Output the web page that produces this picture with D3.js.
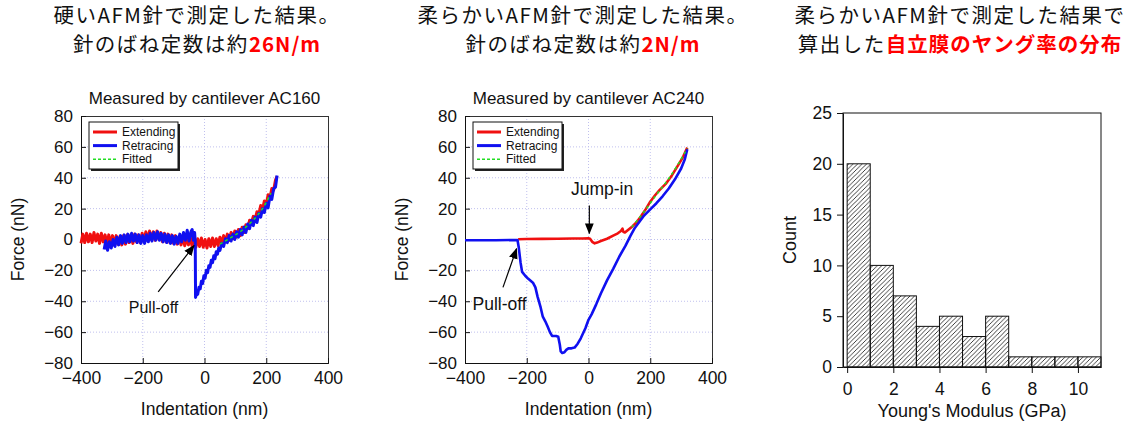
<!DOCTYPE html>
<html>
<head>
<meta charset="utf-8">
<script src="https://cdn.jsdelivr.net/npm/d3@7"></script>
<style>
body { margin: 0; background: #fff; }
svg text { font-family: "Liberation Sans", Arial, sans-serif; fill: #111; }
svg text.jp { font-family: "Noto Sans CJK JP", sans-serif; }
</style>
</head>
<body>
<svg id="fig" width="1134" height="425"></svg>
<script>
// ---- data ----
const forceXTicks = [-400, -200, 0, 200, 400];
const forceYTicks = [-80, -60, -40, -20, 0, 20, 40, 60, 80];
const legendLabels = ["Extending", "Retracing", "Fitted"];

// AC160 (hard cantilever), noisy curves
const ac160Extend = [
  [-400,-2.5],[-394,3.5],[-388,-2],[-382,4],[-376,-1.5],[-370,3.5],[-364,-2],[-358,4.5],[-352,-1],[-346,3.5],
  [-340,-2.5],[-334,4],[-328,-1.5],[-322,3],[-316,-3],[-310,3],[-304,-3],[-298,2.5],[-292,-3.5],[-286,2.5],
  [-280,-3],[-274,2],[-268,-3.5],[-262,2.5],[-256,-3],[-250,3],[-244,-2],[-238,3],[-232,-2.5],[-226,3.5],
  [-220,-1.5],[-214,3],[-208,-2],[-202,4],[-196,-1],[-190,5],[-184,-0.5],[-178,5.5],[-172,0],[-166,5],
  [-160,-0.5],[-154,5.5],[-148,0],[-142,4.5],[-136,-1.5],[-130,4],[-124,-1.5],[-118,3.5],[-112,-2],[-106,3],
  [-100,-2.5],[-94,2.5],[-88,-3],[-82,2],[-76,-3.5],[-70,1.5],[-64,-4],[-58,1],[-52,-3.5],[-46,1.5],
  [-40,-4.5],[-34,0.5],[-28,-5],[-22,0.5],[-16,-4.5],[-10,1],[-4,-5],[2,0],[8,-5.5],[14,0.5],
  [20,-4.5],[26,1],[32,-4.5],[38,0.5],[44,-4],[50,1.5],[56,-2.5],[62,2.5],[68,-1.5],[74,3.5],
  [80,-0.5],[86,4.5],[92,0.5],[98,5.5],[104,1.5],[110,6.5],[116,2.5],[122,8],[128,4.5],[134,9.5],
  [140,7],[146,12.5],[152,10.5],[158,15],[164,13],[170,18],[176,16.5],[182,22],[188,19.5],[194,25],
  [200,22.5],[206,29],[212,27],[218,33],[224,32],[230,38.5],[235,41]
];
const ac160Retract = [
  [-325,-6.5],[-320,-1],[-314,-7],[-308,-1.5],[-302,-5.5],[-296,0],[-290,-4.5],[-284,1.5],[-278,-3.5],[-272,2.5],
  [-266,-2.5],[-260,3],[-254,-2],[-248,3.5],[-242,-1.5],[-236,4],[-230,-1],[-224,3.5],[-218,-2],[-212,3],
  [-206,-2.5],[-200,2.5],[-194,-2.5],[-188,3],[-182,-1.5],[-176,4],[-170,-1],[-164,4.5],[-158,-0.5],[-152,5],
  [-146,-0.5],[-140,4],[-134,-1.5],[-128,3.5],[-122,-2],[-116,3],[-110,-2.5],[-104,2.5],[-98,-3],[-92,2],
  [-86,-2.5],[-80,3.5],[-74,-1.5],[-68,4.5],[-62,-0.5],[-56,6],[-50,-1],[-44,5],[-40,6.5],[-36,-0.5],
  [-32,4.5],[-30,-1],[-29,-37.5],[-26,-35],[-22,-35.5],[-18,-31],[-14,-32],[-10,-27],[-6,-28.5],[-2,-23.5],
  [2,-25],[6,-20],[10,-21.5],[14,-17],[18,-18],[22,-13.5],[26,-15],[30,-10.5],[34,-12.5],[38,-8],
  [42,-9.5],[46,-5.5],[50,-7],[56,-2.5],[62,-4.5],[68,0.5],[74,-2],[80,2.5],[86,-1],[92,3.5],
  [98,0],[104,5],[110,1.5],[116,6.5],[122,3],[128,8],[134,4.5],[140,10],[146,7],[152,12.5],
  [158,9],[164,14.5],[170,11],[176,17],[182,14.5],[188,20],[194,17.5],[200,23.5],[206,20.5],[212,28],
  [218,26],[224,33],[230,34],[235,41.5]
];
const ac160Fit = [[50,-3],[75,0],[100,3],[125,6.5],[150,11],[175,16.5],[200,24],[215,30]];

// AC240 (soft cantilever)
const ac240Extend = [
  [-228,0.2],[-200,0.3],[-150,0.4],[-100,0.5],[-50,0.6],[-20,0.6],[0,0.8],[5,0.5],[12,-1.5],[20,-2.5],
  [28,-2],[40,-1],[60,0.5],[80,2.5],[95,4],[105,5.5],[110,7],[113,5],[118,4.5],[130,6.5],
  [142,8.5],[155,11],[170,15],[185,19.5],[200,24.5],[215,28.5],[230,32],[250,36],[270,41.5],[290,48],
  [305,53],[320,59.5]
];
const ac240Retract = [
  [-400,-0.5],[-300,-0.5],[-230,-0.3],[-226,-5],[-220,-15],[-215,-21],[-205,-23.5],[-195,-25.5],[-180,-28],[-172,-31],
  [-165,-37],[-155,-44],[-148,-50],[-140,-53],[-132,-56.5],[-125,-60],[-118,-62.5],[-105,-62.5],[-98,-63],[-93,-68],
  [-90,-72.5],[-85,-73.5],[-78,-73],[-72,-71.5],[-65,-70.5],[-55,-70.5],[-45,-70],[-35,-67.5],[-25,-64],[-10,-57.5],
  [0,-52],[10,-48.5],[25,-42],[40,-35],[60,-26.5],[80,-19],[100,-11],[120,-4],[135,2],[150,7.5],
  [165,11.5],[180,15.5],[200,19.5],[220,23.5],[240,28],[260,33],[280,39],[300,46],[312,52],[320,58.5]
];
const ac240Fit = [[140,8],[180,18],[220,29],[260,39.5],[300,52],[320,59]];

// Young's modulus histogram
const modulusBins = [0, 1, 2, 3, 4, 5, 6, 7, 8, 9, 10];
const modulusCounts = [20, 10, 7, 4, 5, 3, 5, 1, 1, 1, 1];
const modulusXTicks = [0, 2, 4, 6, 8, 10];
const countTicks = [0, 5, 10, 15, 20, 25];

const lineColors = ["#f01010", "#1010f0", "#22dd22"];

let svg = d3.select("#fig");

// arrow head + hatch pattern
let defs = svg.append("defs");
defs.append("marker")
    .attr("id", "arrowhead")
    .attr("viewBox", "0 0 10 10")
    .attr("refX", 9).attr("refY", 5)
    .attr("markerWidth", 11).attr("markerHeight", 11)
    .attr("markerUnits", "userSpaceOnUse")
    .attr("orient", "auto")
    .append("path")
    .attr("d", "M0,1 L10,5 L0,9 Z")
    .attr("fill", "#000");

defs.append("pattern")
    .attr("id", "hatch")
    .attr("patternUnits", "userSpaceOnUse")
    .attr("width", 4.5).attr("height", 4.5)
    .append("path")
    .attr("d", "M-1,1 l2,-2 M0,4.5 l4.5,-4.5 M3.5,5.5 l2,-2")
    .attr("stroke", "#000")
    .attr("stroke-width", 0.75);

// two header lines, second one ends with a red bold part
function drawHeader(cx, line1, line2a, line2b) {
    svg.append("text")
        .attr("class", "jp")
        .attr("x", cx).attr("y", 23)
        .attr("text-anchor", "middle")
        .style("font-size", "20.5px")
        .style("letter-spacing", "1.5px")
        .text(line1);
    let t = svg.append("text")
        .attr("class", "jp")
        .attr("x", cx).attr("y", 52)
        .attr("text-anchor", "middle")
        .style("font-size", "20.5px")
        .style("letter-spacing", "1.5px");
    t.append("tspan").text(line2a);
    t.append("tspan")
        .style("fill", "#ff0000")
        .style("font-weight", "bold")
        .style("letter-spacing", "1px")
        .text(line2b);
}

function styleAxis(sel, size) {
    sel.selectAll("text")
        .style("font-family", "'Liberation Sans', Arial, sans-serif")
        .style("font-size", size + "px")
        .style("fill", "#111");
    sel.selectAll("line").attr("stroke", "#111");
    sel.select(".domain").attr("stroke", "#111");
}

function drawForceChart(cfg) {
    let width = 247, height = 247;
    let g = svg.append("g").attr("transform", "translate(" + cfg.left + ",116)");

    let x = d3.scaleLinear().domain([-400, 400]).range([0, width]);
    let y = d3.scaleLinear().domain([-80, 80]).range([height, 0]);

    // dotted grid
    g.append("g").selectAll("line")
        .data(forceXTicks.slice(1, -1))
        .join("line")
        .attr("x1", d => x(d)).attr("x2", d => x(d))
        .attr("y1", 0).attr("y2", height)
        .attr("stroke", "#c0c0ee")
        .attr("stroke-dasharray", "1,2");
    g.append("g").selectAll("line")
        .data(forceYTicks.slice(1, -1))
        .join("line")
        .attr("x1", 0).attr("x2", width)
        .attr("y1", d => y(d)).attr("y2", d => y(d))
        .attr("stroke", "#c0c0ee")
        .attr("stroke-dasharray", "1,2");

    g.append("rect")
        .attr("x", 0.5).attr("y", 0.5)
        .attr("width", width).attr("height", height)
        .attr("fill", "none")
        .attr("stroke", "#333");

    g.append("g")
        .attr("transform", "translate(0," + height + ")")
        .call(d3.axisBottom(x).tickValues(forceXTicks).tickSize(-5).tickSizeOuter(0).tickPadding(9))
        .call(s => styleAxis(s, 17.5));
    g.append("g")
        .call(d3.axisLeft(y).tickValues(forceYTicks).tickSize(-5).tickSizeOuter(0).tickPadding(8))
        .call(s => styleAxis(s, 17));

    // curves
    let line = d3.line().x(d => x(d[0])).y(d => y(d[1]));
    let series = [cfg.extend, cfg.retract];
    for (let i = 0; i < series.length; i++) {
        g.append("path")
            .datum(series[i])
            .attr("d", line)
            .attr("fill", "none")
            .attr("stroke", lineColors[i])
            .attr("stroke-width", cfg.lineWidth)
            .attr("stroke-linejoin", "round");
    }
    g.append("path")
        .datum(cfg.fit)
        .attr("d", d3.line().x(d => x(d[0])).y(d => y(d[1])).curve(d3.curveMonotoneX))
        .attr("fill", "none")
        .attr("stroke", lineColors[2])
        .attr("stroke-width", 1.5)
        .attr("stroke-dasharray", "3,3");

    // legend with shadow
    let lg = g.append("g").attr("transform", "translate(8,6)");
    lg.append("rect").attr("x", 2).attr("y", 2).attr("width", 89).attr("height", 47).attr("fill", "#222");
    lg.append("rect").attr("width", 89).attr("height", 47).attr("fill", "#fff").attr("stroke", "#111");
    legendLabels.forEach(function (lab, i) {
        let yy = 10 + i * 13.6;
        lg.append("line")
            .attr("x1", 4).attr("x2", 28)
            .attr("y1", yy).attr("y2", yy)
            .attr("stroke", lineColors[i])
            .attr("stroke-width", i < 2 ? 3 : 1.5)
            .attr("stroke-dasharray", i < 2 ? null : "3,2");
        lg.append("text")
            .attr("x", 33).attr("y", yy)
            .attr("dy", "0.35em")
            .style("font-size", "12px")
            .text(lab);
    });

    // annotations
    cfg.notes.forEach(function (n) {
        g.append("line")
            .attr("x1", x(n.from[0])).attr("y1", y(n.from[1]))
            .attr("x2", x(n.to[0])).attr("y2", y(n.to[1]))
            .attr("stroke", "#000")
            .attr("stroke-width", 1.2)
            .attr("marker-end", "url(#arrowhead)");
        g.append("text")
            .attr("x", x(n.at[0])).attr("y", y(n.at[1]))
            .attr("dy", "0.35em")
            .attr("text-anchor", "middle")
            .style("font-size", n.size + "px")
            .text(n.label);
    });

    // titles
    g.append("text")
        .attr("x", width / 2).attr("y", -12)
        .attr("text-anchor", "middle")
        .style("font-size", "17px")
        .text(cfg.title);
    g.append("text")
        .attr("x", width / 2).attr("y", 299)
        .attr("text-anchor", "middle")
        .style("font-size", "17.5px")
        .text("Indentation (nm)");
    g.append("text")
        .attr("transform", "translate(-63," + (height / 2) + ") rotate(-90)")
        .attr("dy", "0.35em")
        .attr("text-anchor", "middle")
        .style("font-size", "17.5px")
        .text("Force (nN)");
}

function drawHistogram() {
    let hx = d3.scaleLinear().domain([-0.18, 11]).range([843, 1101]);
    let hy = d3.scaleLinear().domain([0, 25]).range([367, 113]);

    svg.append("g").selectAll("rect")
        .data(modulusBins)
        .join("rect")
        .attr("x", d => hx(d))
        .attr("width", d => hx(d + 1) - hx(d))
        .attr("y", (d, i) => hy(modulusCounts[i]))
        .attr("height", (d, i) => hy(0) - hy(modulusCounts[i]))
        .attr("fill", "url(#hatch)")
        .attr("stroke", "#111")
        .attr("stroke-width", 1);

    svg.append("rect")
        .attr("x", hx.range()[0]).attr("y", hy.range()[1])
        .attr("width", hx.range()[1] - hx.range()[0])
        .attr("height", hy.range()[0] - hy.range()[1])
        .attr("fill", "none")
        .attr("stroke", "#111");

    svg.append("g")
        .attr("transform", "translate(0,367)")
        .call(d3.axisBottom(hx).tickValues(modulusXTicks).tickSize(6).tickSizeOuter(0).tickPadding(10))
        .call(s => styleAxis(s, 17.5));
    svg.append("g")
        .attr("transform", "translate(843,0)")
        .call(d3.axisLeft(hy).tickValues(countTicks).tickSize(6).tickSizeOuter(0).tickPadding(5))
        .call(s => styleAxis(s, 17.5));

    svg.append("text")
        .attr("x", 972).attr("y", 417)
        .attr("text-anchor", "middle")
        .style("font-size", "18px")
        .text("Young's Modulus (GPa)");
    svg.append("text")
        .attr("transform", "translate(790,240) rotate(-90)")
        .attr("dy", "0.35em")
        .attr("text-anchor", "middle")
        .style("font-size", "18px")
        .text("Count");
}

drawHeader(197, "硬いAFM針で測定した結果。", "針のばね定数は約", "26N/m");
drawHeader(583, "柔らかいAFM針で測定した結果。", "針のばね定数は約", "2N/m");
drawHeader(960, "柔らかいAFM針で測定した結果で", "算出した", "自立膜のヤング率の分布");

drawForceChart({
    left: 81,
    title: "Measured by cantilever AC160",
    extend: ac160Extend, retract: ac160Retract, fit: ac160Fit,
    lineWidth: 3,
    notes: [
        {label: "Pull-off", size: 16, from: [-150, -34], to: [-34, -4], at: [-165, -44]}
    ]
});

drawForceChart({
    left: 465,
    title: "Measured by cantilever AC240",
    extend: ac240Extend, retract: ac240Retract, fit: ac240Fit,
    lineWidth: 2.6,
    notes: [
        {label: "Jump-in", size: 17.5, from: [2.7, 22], to: [2.7, 4], at: [44, 32.5]},
        {label: "Pull-off", size: 17.5, from: [-277, -31], to: [-233, -6], at: [-288, -42]}
    ]
});

drawHistogram();
</script>
</body>
</html>
